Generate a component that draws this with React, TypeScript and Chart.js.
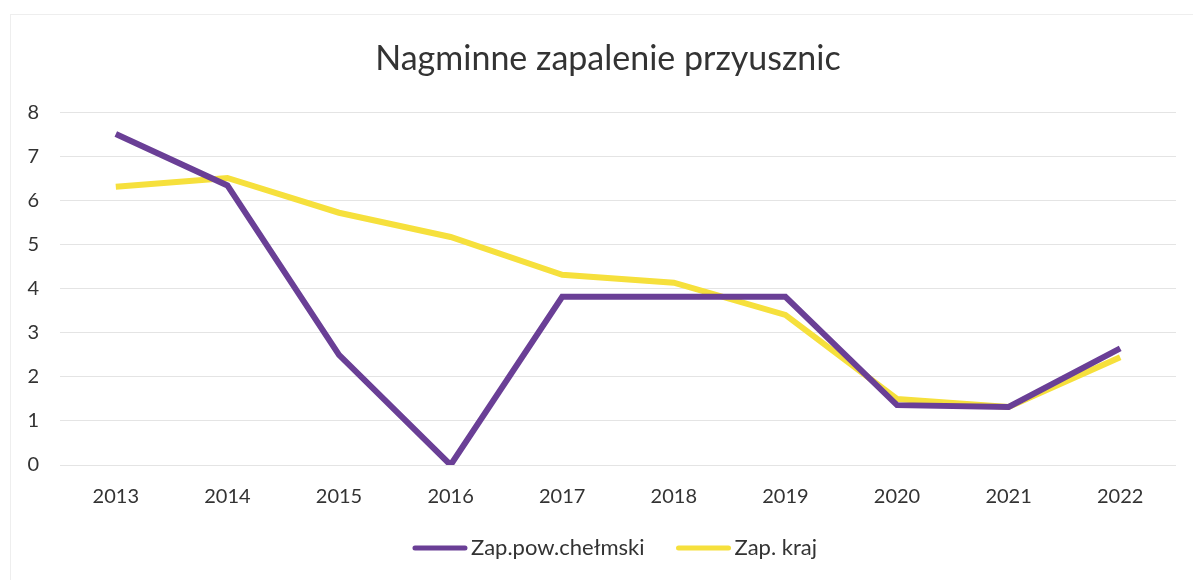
import React, { useEffect, useRef } from "react";
import { Chart, registerables } from "chart.js";

Chart.register(...registerables);

const years = ["2013", "2014", "2015", "2016", "2017", "2018", "2019", "2020", "2021", "2022"];
const powChelmski = [7.52, 6.35, 2.5, 0, 3.82, 3.82, 3.82, 1.36, 1.32, 2.65];
const kraj = [6.32, 6.52, 5.73, 5.18, 4.32, 4.14, 3.41, 1.5, 1.32, 2.45];
const yTicks = [0, 1, 2, 3, 4, 5, 6, 7, 8];
const title = "Nagminne zapalenie przyusznic";
const seriesNames = ["Zap.pow.chełmski", "Zap. kraj"];

const PURPLE = "#6a3f96";
const YELLOW = "#f6e03c";
const FONT = "Lato, 'Open Sans', sans-serif";

const titleShiftPlugin = {
  id: "titleShift",
  afterLayout(chart: any) {
    const t = chart.titleBlock;
    if (t) {
      t.left += 30;
      t.right += 0;
    }
  },
};

const legendPlugin = {
  id: "customLegend",
  afterDraw(chart: any) {
    const ctx = chart.ctx;
    const ds = chart.data.datasets;
    ctx.save();
    ctx.font = `22px ${FONT}`;
    ctx.textBaseline = "middle";
    const boxW = 54;
    const textGap = 4;
    const itemGap = 32;
    const widths = ds.map((d: any) => ctx.measureText(d.label).width);
    let total = 0;
    widths.forEach((w: number, i: number) => {
      total += boxW + textGap + w + (i < widths.length - 1 ? itemGap : 0);
    });
    let x = 615 - total / 2;
    const y = 548;
    ds.forEach((d: any, i: number) => {
      ctx.strokeStyle = d.borderColor;
      ctx.lineWidth = 5;
      ctx.lineCap = "round";
      ctx.beginPath();
      ctx.moveTo(x + 2, y);
      ctx.lineTo(x + boxW - 2, y);
      ctx.stroke();
      ctx.fillStyle = "#333333";
      ctx.textAlign = "left";
      ctx.fillText(d.label, x + boxW + textGap, y);
      x += boxW + textGap + widths[i] + itemGap;
    });
    ctx.restore();
  },
};

export default function App() {
  const ref = useRef<HTMLCanvasElement | null>(null);

  useEffect(() => {
    document.body.style.margin = "0";
    const canvas = ref.current;
    if (!canvas) return;
    const chart = new Chart(canvas, {
      type: "line",
      data: {
        labels: years,
        datasets: [
          {
            label: seriesNames[0],
            data: powChelmski,
            borderColor: PURPLE,
            backgroundColor: PURPLE,
            borderWidth: 6,
            pointRadius: 0,
            tension: 0,
          },
          {
            label: seriesNames[1],
            data: kraj,
            borderColor: YELLOW,
            backgroundColor: YELLOW,
            borderWidth: 6,
            pointRadius: 0,
            tension: 0,
          },
        ],
      },
      options: {
        animation: false,
        responsive: false,
        layout: { padding: { left: 10, right: 17, top: 39, bottom: 53 } },
        plugins: {
          title: {
            display: true,
            text: title,
            color: "#333333",
            font: { family: FONT, size: 34, weight: "normal" },
            padding: { top: 0, bottom: 33 },
          },
          legend: { display: false },
          tooltip: { enabled: false },
        },
        scales: {
          x: {
            offset: true,
            grid: { display: false, drawTicks: false },
            border: { display: false },
            ticks: {
              color: "#333333",
              font: { family: FONT, size: 20 },
              padding: 20,
            },
            afterFit: (s: any) => {
              s.height = 62;
            },
          },
          y: {
            min: 0,
            max: 8,
            afterBuildTicks: (s: any) => {
              s.ticks = yTicks.map((v) => ({ value: v }));
            },
            grid: { color: "#e4e4e4", lineWidth: 1, drawTicks: false },
            border: { display: false },
            ticks: {
              color: "#333333",
              font: { family: FONT, size: 20 },
              padding: 21,
            },
            afterFit: (s: any) => {
              s.width = 50;
            },
          },
        },
      },
      plugins: [titleShiftPlugin, legendPlugin],
    });
    return () => chart.destroy();
  }, []);

  return (
    <div style={{ position: "relative", width: 1193, height: 580, background: "#fff" }}>
      <div
        style={{
          position: "absolute",
          left: 10,
          top: 14,
          right: 0,
          bottom: 0,
          borderLeft: "1px solid #eeeeee",
          borderTop: "1px solid #eeeeee",
          pointerEvents: "none",
        }}
      />
      <canvas ref={ref} width={1193} height={580} style={{ display: "block" }} />
    </div>
  );
}
